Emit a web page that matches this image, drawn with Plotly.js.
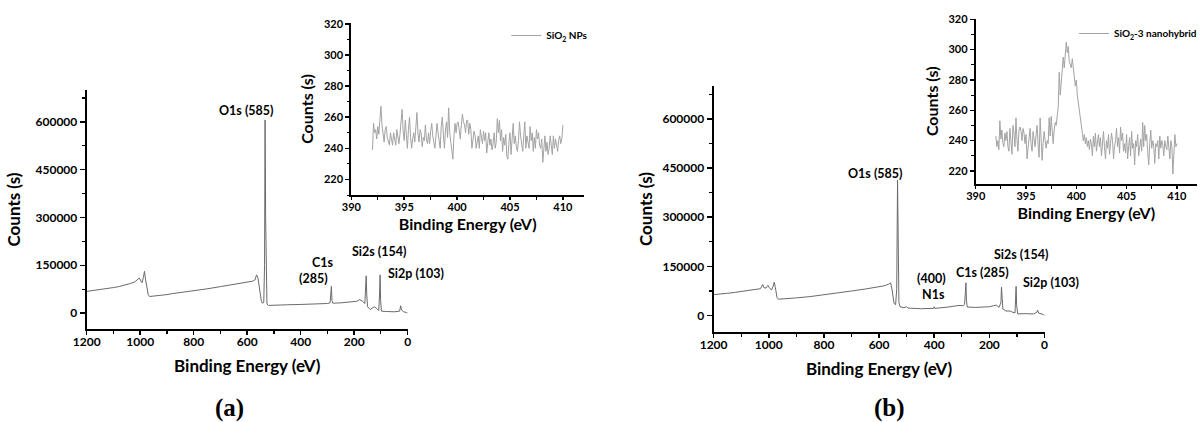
<!DOCTYPE html>
<html><head><meta charset="utf-8">
<script src="https://cdn.plot.ly/plotly-3.0.1.min.js"></script>
<style>html,body{margin:0;padding:0;background:#fff}#chart{width:1202px;height:422px}</style>
</head><body><div id="chart"></div>
<script>
// ---- Survey (a): SiO2 NPs ----
const surveyA_energy = [1200,1180,1160,1140,1120,1100,1080,1060,1040,1020,1010,1003,997,993,988,984,980,975,970,965,950,920,900,880,850,800,750,700,650,600,580,570,565,560,553,547,543,538,535,533,531,529,526,520,500,450,400,350,300,290,287,285,283,280,250,210,190,180,170,160,157,155,153,150,140,125,115,108,105,103,101,98,80,50,30,26,23,15,5,0];
const surveyA_counts = [68000,70000,72000,75000,77000,80000,83000,87000,92000,98000,104000,110000,100000,95000,112000,131000,105000,80000,58000,52000,53000,56000,58000,61000,64000,70000,76000,83000,90000,97000,100000,105000,120000,112000,70000,38000,31000,33000,150000,606000,300000,60000,28000,24000,25000,26000,27000,28000,30000,32000,60000,84000,40000,31000,32000,34000,37000,42000,38000,30000,80000,117000,60000,20000,11000,20000,14000,8000,60000,120000,40000,6000,5000,4000,6000,23000,10000,4000,2000,0];

// ---- Survey (b): SiO2-3 nanohybrid ----
const surveyB_energy = [1200,1180,1150,1120,1090,1060,1040,1030,1022,1018,1010,1003,998,990,985,980,976,970,965,940,900,850,800,750,700,650,600,580,565,558,552,546,540,536,533,531,528,524,510,500,495,450,420,402,400,398,350,310,295,290,287,285,283,280,250,200,185,175,165,158,156,154,151,140,125,115,107,105,103,101,97,70,40,28,25,22,10,3,0];
const surveyB_counts = [64000,65000,68000,71000,74000,77000,80000,82000,95000,85000,84000,92000,85000,78000,88000,102000,85000,55000,50000,51000,54000,58000,63000,69000,75000,81000,88000,91000,96000,100000,75000,38000,33000,80000,413000,250000,40000,27000,24000,27000,23000,21000,21000,22000,27000,22000,26000,31000,30000,35000,70000,100000,45000,26000,25000,27000,30000,32000,25000,40000,87000,60000,20000,14000,14000,10000,8000,50000,89000,30000,5000,6000,5000,10000,17000,8000,5000,3000,0];

// ---- N1s region insets (392.0 – 410.0 eV, 0.1 eV step) ----
const insetStartEV = 392.0;
const insetStepEV = 0.1;
const insetA_counts = [
239,256,250,252,246,254,249,258,267,255,
248,244,252,254,247,245,242,250,247,242,
250,244,242,252,246,243,249,255,265,251,
245,258,248,240,252,260,247,240,246,250,
244,256,263,250,244,252,250,241,247,245,
255,246,243,250,243,251,256,248,244,240,
248,256,250,245,240,254,260,249,240,252,
257,247,266,250,245,240,233,248,256,250,
256,257,250,246,255,262,257,255,250,258,
258,249,256,252,240,246,251,248,240,244,
248,240,252,247,243,251,245,250,237,244,
250,242,246,239,243,250,240,244,259,250,
258,245,252,238,247,242,249,235,233,244,
250,236,247,256,243,248,241,238,245,257,
248,244,238,248,257,240,248,244,240,254,
245,250,238,247,240,252,246,250,242,240,
246,231,243,248,238,244,236,240,248,243,
236,248,240,246,243,238,245,248,243,246,
255];
const insetB_counts = [
243,236,240,234,253,241,247,238,236,245,
240,246,236,233,248,241,231,250,245,236,
255,240,233,247,249,246,240,248,245,238,
244,228,236,243,248,238,233,246,240,236,
244,250,237,229,255,244,227,238,246,240,
235,240,238,255,243,256,245,238,247,252,
250,255,262,285,270,278,290,295,288,300,
305,298,302,292,290,288,294,285,282,276,
280,270,265,262,255,250,248,240,244,238,
242,236,240,234,241,238,230,243,236,245,
233,240,244,236,242,230,238,246,236,228,
240,235,244,231,238,245,240,228,236,240,
248,236,242,232,249,240,245,233,238,232,
244,228,236,242,230,246,235,238,224,240,
236,244,230,238,241,233,252,236,250,240,
244,232,224,238,247,235,240,236,225,238,
236,240,228,243,235,240,237,230,240,236,
234,243,236,228,240,236,218,230,244,236,
238];

const seriesNames = ['SiO<sub>2</sub> NPs', 'SiO<sub>2</sub>-3 nanohybrid'];
const mainXTitle = 'Binding Energy (eV)';
const mainYTitle = 'Counts (s)';
const peakLabelsA = ['O1s (585)', 'C1s', '(285)', 'Si2s (154)', 'Si2p (103)'];
const peakLabelsB = ['O1s (585)', '(400)', 'N1s', 'C1s (285)', 'Si2s (154)', 'Si2p (103)'];
const panelLabels = ['(a)', '(b)'];

// ---- layout helpers ----
const W = 1202, H = 422;
const px = p => p / W;
const py = p => 1 - p / H;
const FONT = 'Lato, "Open Sans", sans-serif';

function mainAxisX(d0, d1, anchor) {
  return {domain: [px(d0), px(d1)], anchor, range: [1200, 0], autorange: false,
    showline: true, linecolor: '#000', linewidth: 2, ticks: 'outside', ticklen: 4, tickwidth: 1.5, tickcolor: '#000',
    dtick: 200, tick0: 0, minor: {ticks: 'outside', ticklen: 3, tickwidth: 1.2, tickcolor: '#000', dtick: 100},
    showgrid: false, zeroline: false, ticklabelstandoff: -3,
    tickfont: {family: FONT, size: 12, weight: 'bold', color: '#000'},
    title: {text: mainXTitle, font: {family: FONT, size: 17, weight: 'bold', color: '#000'}, standoff: 12}};
}
function mainAxisY(d0, d1, anchor, so) {
  return {domain: [py(d0), py(d1)], anchor, range: [-50000, 700000], autorange: false,
    showline: true, linecolor: '#000', linewidth: 2, ticks: 'outside', ticklen: 5, tickwidth: 1.5, tickcolor: '#000',
    dtick: 150000, tick0: 0, tickformat: 'd', minor: {ticks: 'outside', ticklen: 3, tickwidth: 1.2, tickcolor: '#000', dtick: 75000},
    showgrid: false, zeroline: false,
    tickfont: {family: FONT, size: 12, weight: 'bold', color: '#000'},
    title: {text: mainYTitle, font: {family: FONT, size: 17, weight: 'bold', color: '#000'}, standoff: so}};
}
function insetAxisX(d0, d1, anchor) {
  return {domain: [px(d0), px(d1)], anchor, range: [390, 412], autorange: false,
    showline: true, linecolor: '#000', linewidth: 2, ticks: 'outside', ticklen: 3, tickwidth: 1.5, tickcolor: '#000',
    dtick: 5, tick0: 390, minor: {ticks: 'outside', ticklen: 2.5, tickwidth: 1, tickcolor: '#000', dtick: 2.5},
    showgrid: false, zeroline: false, ticklabelstandoff: -2,
    tickfont: {family: FONT, size: 11, weight: 'bold', color: '#000'},
    title: {text: mainXTitle, font: {family: FONT, size: 16, weight: 'bold', color: '#000'}, standoff: 7}};
}
function insetAxisY(d0, d1, anchor, r) {
  return {domain: [py(d0), py(d1)], anchor, range: r, autorange: false,
    showline: true, linecolor: '#000', linewidth: 2, ticks: 'outside', ticklen: 4, tickwidth: 1.5, tickcolor: '#000',
    dtick: 20, tick0: 220, minor: {ticks: 'outside', ticklen: 2.5, tickwidth: 1, tickcolor: '#000', dtick: 10},
    showgrid: false, zeroline: false,
    tickfont: {family: FONT, size: 11, weight: 'bold', color: '#000'},
    title: {text: mainYTitle, font: {family: FONT, size: 16, weight: 'bold', color: '#000'}, standoff: 6}};
}

const traces = [
  {x: surveyA_energy, y: surveyA_counts, xaxis: 'x', yaxis: 'y', type: 'scatter', mode: 'lines',
   line: {color: '#6a6a6a', width: 1}, showlegend: false, hoverinfo: 'skip'},
  {x0: insetStartEV, dx: insetStepEV, y: insetA_counts, xaxis: 'x2', yaxis: 'y2', type: 'scatter', mode: 'lines',
   line: {color: '#a3a3a3', width: 1}, name: seriesNames[0], legend: 'legend', showlegend: true},
  {x: surveyB_energy, y: surveyB_counts, xaxis: 'x3', yaxis: 'y3', type: 'scatter', mode: 'lines',
   line: {color: '#6a6a6a', width: 1}, showlegend: false, hoverinfo: 'skip'},
  {x0: insetStartEV, dx: insetStepEV, y: insetB_counts, xaxis: 'x4', yaxis: 'y4', type: 'scatter', mode: 'lines',
   line: {color: '#a3a3a3', width: 1}, name: seriesNames[1], legend: 'legend2', showlegend: true}
];

const annFont = {family: FONT, size: 12.5, weight: 'bold', color: '#000'};
function ann(text, x, y, font) {
  return {text, xref: 'paper', yref: 'paper', x: px(x), y: py(y), xanchor: 'center', yanchor: 'middle',
    showarrow: false, font: font || annFont};
}
const panelFont = {family: '"Liberation Serif", "Times New Roman", serif', size: 25, weight: 'bold', color: '#000'};

const layout = {
  width: W, height: H, margin: {l: 0, r: 0, t: 0, b: 0},
  paper_bgcolor: '#fff', plot_bgcolor: 'rgba(0,0,0,0)',
  xaxis: mainAxisX(87, 409, 'y'),
  yaxis: mainAxisY(329, 90, 'x', 11),
  xaxis2: insetAxisX(352.5, 586, 'y2'),
  yaxis2: insetAxisY(195, 23, 'x2', [210, 320.5]),
  xaxis3: mainAxisX(716, 1048, 'y3'),
  yaxis3: mainAxisY(332, 86, 'x3', 6),
  xaxis4: insetAxisX(979, 1201, 'y4'),
  yaxis4: insetAxisY(184, 18.5, 'x4', [211.4, 320.5]),
  legend: {x: px(508), y: py(21), xanchor: 'left', yanchor: 'top', bgcolor: 'rgba(0,0,0,0)',
    font: {family: FONT, size: 10, weight: 'bold', color: '#000'}, itemwidth: 30, tracegroupgap: 0},
  legend2: {x: px(1078), y: py(19), xanchor: 'left', yanchor: 'top', bgcolor: 'rgba(0,0,0,0)',
    font: {family: FONT, size: 10, weight: 'bold', color: '#000'}, itemwidth: 30, tracegroupgap: 0},
  annotations: [
    ann(peakLabelsA[0], 247, 110), ann(peakLabelsA[1], 324, 262), ann(peakLabelsA[2], 315, 278),
    ann(peakLabelsA[3], 380, 252), ann(peakLabelsA[4], 417, 273),
    ann(peakLabelsB[0], 878, 173), ann(peakLabelsB[1], 935, 278), ann(peakLabelsB[2], 937, 294),
    ann(peakLabelsB[3], 986, 272), ann(peakLabelsB[4], 1024, 254), ann(peakLabelsB[5], 1055, 282),
    ann(panelLabels[0], 230, 408, panelFont), ann(panelLabels[1], 892, 408, panelFont)
  ]
};

Plotly.newPlot('chart', traces, layout, {staticPlot: true, displayModeBar: false});
</script>
</body></html>
